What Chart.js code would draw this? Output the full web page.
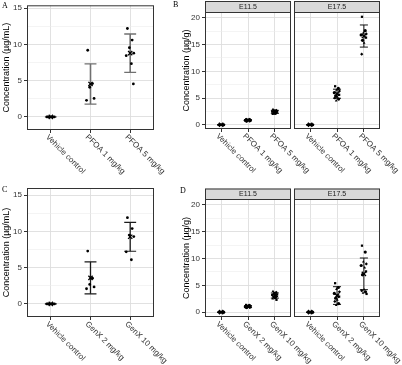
<!DOCTYPE html>
<html>
<head>
<meta charset="utf-8">
<script src="https://cdn.jsdelivr.net/npm/chart.js@4/dist/chart.umd.min.js"></script>
<style>
  html, body { margin: 0; padding: 0; background: #fff; }
  #wrap { position: relative; width: 402px; height: 365px; overflow: hidden; }
  #wrap canvas { position: absolute; left: 0; top: 0; }
  .tag { position: absolute; font-family: "Liberation Serif", "Times New Roman", serif; font-size: 8px; line-height: 8px; color: #000; }
</style>
</head>
<body>
<div id="wrap">
  <canvas id="cA" width="402" height="365"></canvas>
  <canvas id="cB1" width="402" height="365"></canvas>
  <canvas id="cB2" width="402" height="365"></canvas>
  <canvas id="cC" width="402" height="365"></canvas>
  <canvas id="cD1" width="402" height="365"></canvas>
  <canvas id="cD2" width="402" height="365"></canvas>
  <div class="tag" style="left:2px;top:2px">A</div>
  <div class="tag" style="left:173px;top:1px">B</div>
  <div class="tag" style="left:2px;top:186px">C</div>
  <div class="tag" style="left:180px;top:187px">D</div>
</div>
<script>
// ---- data ----
const pfoaGroups = ['Vehicle control', 'PFOA 1 mg/kg', 'PFOA 5 mg/kg'];
const genxGroups = ['Vehicle control', 'GenX 2 mg/kg', 'GenX 10 mg/kg'];
const facets = ['E11.5', 'E17.5'];
const serumTicks = [0, 5, 10, 15];
const tissueTicks = [0, 5, 10, 15, 20];

// A: serum, PFOA (ug/mL)
const serumPfoaPts = [[0, 0, 0, 0, 0], [9.2, 4.6, 4.1, 2.55, 2.3], [12.2, 10.6, 9.55, 8.8, 8.45, 7.35, 4.55]];
const serumPfoaMean = [0, 4.55, 8.8];
const serumPfoaSd = [0, 2.77, 2.64];

// B: tissue, PFOA (ug/g)
const pfoaE11Pts = [[0, 0, 0, 0, 0, 0, 0, 0], [1.0, 0.95, 0.9, 0.85, 0.82, 0.78, 0.72, 0.68], [2.9, 2.7, 2.6, 2.5, 2.45, 2.4, 2.3, 2.2, 2.1, 1.95]];
const pfoaE11Mean = [0, 0.84, 2.41];
const pfoaE11Sd = [0, 0.11, 0.28];
const pfoaE17Pts = [[0, 0, 0, 0, 0, 0, 0, 0], [7.2, 6.8, 6.5, 6.3, 6.0, 5.8, 5.6, 5.4, 5.2, 5.0, 4.8, 4.5], [20.2, 17.6, 17.2, 17.0, 16.8, 16.6, 16.3, 15.8, 15.3, 13.2]];
const pfoaE17Mean = [0, 5.8, 16.6];
const pfoaE17Sd = [0, 0.85, 2.07];

// C: serum, GenX (ug/mL)
const serumGenxPts = [[0, 0, 0, 0, 0], [7.3, 3.55, 2.7, 2.35, 2.1], [11.9, 10.4, 9.5, 9.3, 7.2, 6.1]];
const serumGenxMean = [0, 3.6, 9.27];
const serumGenxSd = [0, 2.2, 2.0];

// D: tissue, GenX (ug/g)
const genxE11Pts = [[0, 0, 0, 0, 0, 0, 0, 0], [1.35, 1.25, 1.15, 1.1, 1.0, 0.95, 0.9, 0.85], [3.9, 3.7, 3.5, 3.3, 3.2, 3.1, 3.0, 2.9, 2.7, 2.5, 2.3]];
const genxE11Mean = [0, 1.05, 3.1];
const genxE11Sd = [0, 0.17, 0.48];
const genxE17Pts = [[0, 0, 0, 0, 0, 0, 0, 0], [5.4, 4.6, 4.3, 3.8, 3.5, 3.2, 2.9, 2.6, 2.3, 2.0, 1.6, 1.3], [12.4, 11.2, 9.4, 9.0, 8.7, 8.3, 7.6, 7.0, 4.2, 4.0, 3.8, 3.6, 3.4]];
const genxE17Mean = [0, 3.1, 7.15];
const genxE17Sd = [0, 1.65, 2.95];

// ---- drawing ----
const FONT = '"Liberation Sans", Arial, sans-serif';
const JITTER = [-0.07, 0.05, -0.02, 0.09, -0.1, 0.03, 0.08, -0.05, 0.01, -0.08, 0.06, -0.03, 0.1];
const SHAPES = ['circle', 'triangle', 'rect', 'circle', 'triangle', 'rectRot'];

const panelPlugin = {
  id: 'panel',
  beforeDatasetsDraw(chart, args, o) {
    const { ctx, scales: { x, y } } = chart;
    ctx.save();
    ctx.strokeStyle = o.barColor;
    o.mean.forEach((m, i) => {
      const cx = x.getPixelForValue(i + 1);
      const xl = x.getPixelForValue(i + 1 - 0.15), xr = x.getPixelForValue(i + 1 + 0.15);
      const yHi = y.getPixelForValue(m + o.sd[i]), yLo = y.getPixelForValue(m - o.sd[i]);
      ctx.lineWidth = o.barWidth;
      ctx.beginPath(); ctx.moveTo(cx, yLo); ctx.lineTo(cx, yHi); ctx.stroke();
      ctx.lineWidth = o.capWidth;
      ctx.beginPath(); ctx.moveTo(xl, yLo); ctx.lineTo(xr, yLo); ctx.moveTo(xl, yHi); ctx.lineTo(xr, yHi); ctx.stroke();
    });
    ctx.restore();
  },
  afterDraw(chart, args, o) {
    const { ctx, chartArea: a, scales: { x } } = chart;
    ctx.save();
    ctx.strokeStyle = '#333';
    ctx.lineWidth = 1;
    ctx.strokeRect(a.left + 0.5, a.top + 0.5, a.width - 1, a.height - 1);
    if (o.strip) {
      const h = o.stripH;
      ctx.fillStyle = '#d9d9d9';
      ctx.fillRect(a.left, a.top - h, a.width, h);
      ctx.strokeRect(a.left + 0.5, a.top - h + 0.5, a.width - 1, h);
      ctx.fillStyle = '#1a1a1a';
      ctx.font = '7px ' + FONT;
      ctx.textAlign = 'center';
      ctx.textBaseline = 'middle';
      ctx.fillText(o.strip, (a.left + a.right) / 2, a.top - h / 2 + 0.5);
    }
    ctx.fillStyle = '#333';
    ctx.font = '8px ' + FONT;
    ctx.textAlign = 'left';
    ctx.textBaseline = 'top';
    o.groups.forEach((g, i) => {
      ctx.save();
      ctx.translate(x.getPixelForValue(i + 1) - 1, a.bottom + 3);
      ctx.rotate(Math.PI / 4);
      ctx.fillText(g, 0, 0);
      ctx.restore();
    });
    ctx.restore();
  }
};

function makePanel(id, p) {
  const pts = [];
  p.pts.forEach((arr, i) => arr.forEach((v, j) => pts.push({ x: i + 1 + JITTER[j % JITTER.length], y: v })));
  const showAxis = !!p.title;
  const majorSet = p.ticks;
  new Chart(document.getElementById(id), {
    type: 'scatter',
    data: {
      datasets: [
        {
          data: pts,
          backgroundColor: '#000',
          borderColor: '#000',
          borderWidth: 0,
          pointRadius: p.shapes ? 1.6 : 1.4,
          pointStyle: p.shapes ? (c => SHAPES[c.dataIndex % SHAPES.length]) : 'circle'
        },
        {
          data: p.mean.map((m, i) => ({ x: i + 1, y: m })),
          pointStyle: 'crossRot',
          pointRadius: 3,
          borderColor: '#000',
          borderWidth: 1.3
        }
      ]
    },
    options: {
      responsive: false,
      devicePixelRatio: 1,
      animation: false,
      events: [],
      layout: { padding: { left: p.axisLeft, top: p.top, right: 402 - p.right, bottom: 365 - p.bottom - 3 } },
      plugins: {
        legend: { display: false },
        tooltip: { enabled: false },
        panel: {
          groups: p.groups, mean: p.mean, sd: p.sd,
          barColor: p.barColor, barWidth: p.barWidth, capWidth: p.capWidth,
          strip: p.strip || null, stripH: p.stripH || 0
        }
      },
      scales: {
        x: {
          type: 'linear', min: 0.4, max: 3.6,
          ticks: { display: false, stepSize: 1, includeBounds: false },
          grid: { color: '#dedede', lineWidth: 0.9, drawTicks: true, tickLength: 3, tickColor: '#333', tickWidth: 1 },
          border: { display: false },
          afterFit: s => { s.height = 3; s.paddingLeft = 0; s.paddingRight = 0; }
        },
        y: {
          type: 'linear', min: p.ymin, max: p.ymax,
          ticks: {
            display: showAxis, stepSize: 2.5, includeBounds: false, autoSkip: false, padding: 2,
            color: '#333', font: { size: 8, family: FONT },
            callback: v => majorSet.includes(v) ? String(v) : ''
          },
          grid: {
            color: c => (c.tick && majorSet.includes(c.tick.value)) ? '#dedede' : '#ededed',
            lineWidth: c => (c.tick && majorSet.includes(c.tick.value)) ? 0.9 : 0.6,
            drawTicks: showAxis, tickLength: 3, tickWidth: 1,
            tickColor: c => (c.tick && majorSet.includes(c.tick.value)) ? '#333' : 'rgba(0,0,0,0)'
          },
          border: { display: false },
          title: {
            display: showAxis, text: p.title || '', color: '#000',
            font: { size: 9, family: FONT }, padding: { top: 1, bottom: 0 }
          },
          afterFit: s => { s.width = p.left - p.axisLeft; s.paddingTop = 0; s.paddingBottom = 0; }
        }
      }
    },
    plugins: [panelPlugin]
  });
}

makePanel('cA', {
  groups: pfoaGroups, pts: serumPfoaPts, mean: serumPfoaMean, sd: serumPfoaSd,
  left: 27, right: 154, top: 4, bottom: 130, axisLeft: 0, ymin: -1.8, ymax: 15.4, ticks: serumTicks,
  title: 'Concentration (µg/mL)', barColor: '#707070', barWidth: 1.6, capWidth: 1.3
});
makePanel('cC', {
  groups: genxGroups, pts: serumGenxPts, mean: serumGenxMean, sd: serumGenxSd,
  left: 27, right: 154, top: 188, bottom: 317, axisLeft: 0, ymin: -1.8, ymax: 16, ticks: serumTicks,
  title: 'Concentration (µg/mL)', barColor: '#1a1a1a', barWidth: 1.3, capWidth: 1.2
});
makePanel('cB1', {
  groups: pfoaGroups, pts: pfoaE11Pts, mean: pfoaE11Mean, sd: pfoaE11Sd, shapes: true,
  left: 205, right: 291, top: 12, bottom: 129, axisLeft: 180, ymin: -0.8, ymax: 21.1, ticks: tissueTicks,
  title: 'Concentration (µg/g)', strip: facets[0], stripH: 11, barColor: '#111', barWidth: 1, capWidth: 1
});
makePanel('cB2', {
  groups: pfoaGroups, pts: pfoaE17Pts, mean: pfoaE17Mean, sd: pfoaE17Sd, shapes: true,
  left: 294, right: 380, top: 12, bottom: 129, axisLeft: 294, ymin: -0.8, ymax: 21.1, ticks: tissueTicks,
  title: null, strip: facets[1], stripH: 11, barColor: '#111', barWidth: 1, capWidth: 1
});
makePanel('cD1', {
  groups: genxGroups, pts: genxE11Pts, mean: genxE11Mean, sd: genxE11Sd, shapes: true,
  left: 205, right: 291, top: 199, bottom: 317, axisLeft: 180, ymin: -0.9, ymax: 21.1, ticks: tissueTicks,
  title: 'Concentration (µg/g)', strip: facets[0], stripH: 10.5, barColor: '#111', barWidth: 1, capWidth: 1
});
makePanel('cD2', {
  groups: genxGroups, pts: genxE17Pts, mean: genxE17Mean, sd: genxE17Sd, shapes: true,
  left: 294, right: 380, top: 199, bottom: 317, axisLeft: 294, ymin: -0.9, ymax: 21.1, ticks: tissueTicks,
  title: null, strip: facets[1], stripH: 10.5, barColor: '#111', barWidth: 1, capWidth: 1
});
</script>
</body>
</html>
